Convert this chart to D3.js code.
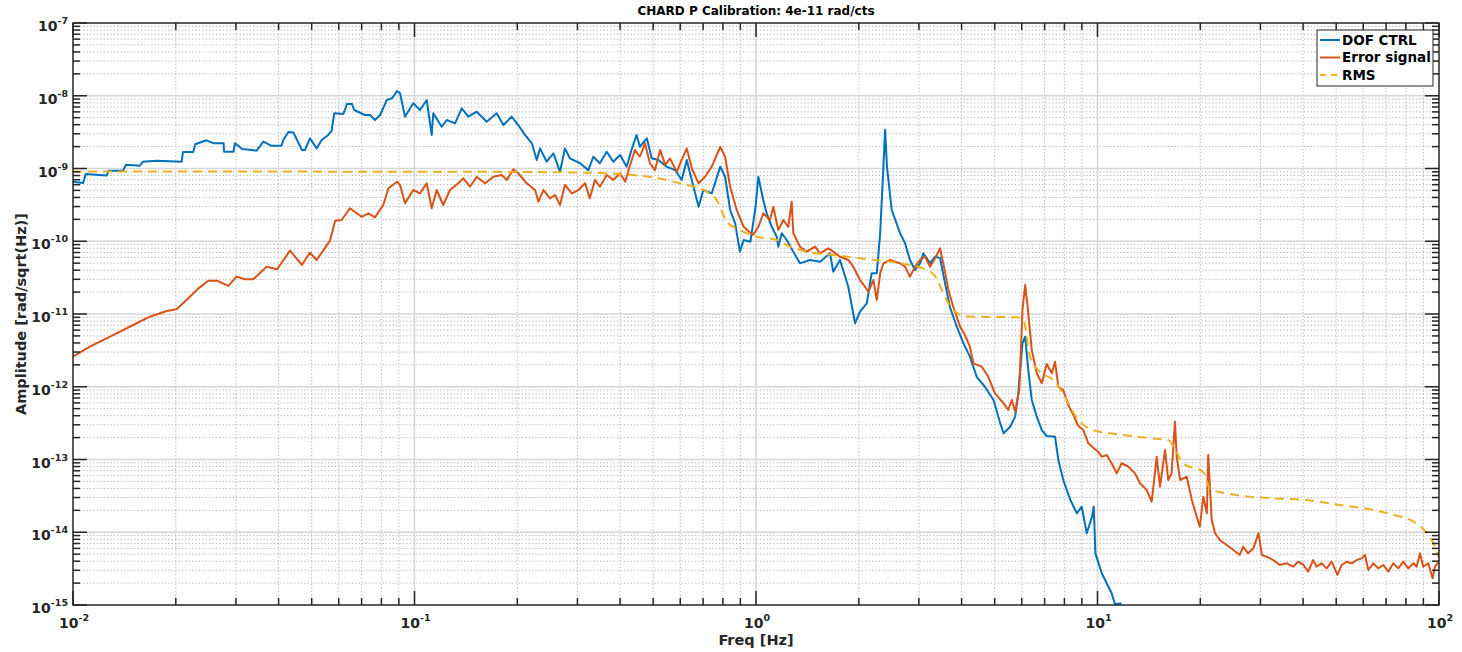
<!DOCTYPE html>
<html>
<head>
<meta charset="utf-8">
<title>CHARD P Calibration</title>
<script src="https://cdn.jsdelivr.net/npm/d3@7"></script>
<style>
  body { margin: 0; background: #fff; }
  svg { display: block; }
  text { font-family: "DejaVu Sans", sans-serif; font-weight: bold; fill: #262626; }
</style>
</head>
<body>
<svg id="chart" width="1462" height="652"></svg>
<script>
// ---- Spectra (frequency in Hz, amplitude in rad/sqrt(Hz)) ----
const dofFreq = [0.0100,0.0107,0.0109,0.01255,0.0127,0.0140,0.0143,0.0157,0.0160,0.0176,
  0.0208,0.0210,0.0225,0.0228,0.0246,0.0258,0.0276,0.0277,0.0295,0.0298,
  0.0313,0.0345,0.0361,0.0380,0.0408,0.0413,0.0427,0.0442,0.0468,0.0478,
  0.0494,0.0517,0.0535,0.0559,0.0572,0.0582,0.0619,0.0634,0.0656,0.0666,
  0.0716,0.0741,0.0766,0.0793,0.0830,0.0859,0.0889,0.0907,0.0938,0.0992,
  0.1038,0.1086,0.1123,0.1135,0.1201,0.1243,0.1314,0.1375,0.1437,0.1521,
  0.1627,0.1740,0.1820,0.1925,0.2013,0.2107,0.2206,0.2280,0.2332,0.2438,
  0.2551,0.2668,0.2758,0.2852,0.3054,0.3228,0.334,0.349,0.3655,0.382,
  0.400,0.418,0.432,0.447,0.457,0.479,0.495,0.518,0.547,0.580,
  0.606,0.627,0.656,0.679,0.701,0.742,0.786,0.812,0.840,0.869,
  0.897,0.920,0.963,0.997,1.016,1.050,1.075,1.112,1.150,1.162,
  1.189,1.230,1.286,1.345,1.439,1.540,1.647,1.684,1.762,1.863,
  1.950,2.017,2.110,2.181,2.258,2.310,2.361,2.388,2.418,2.497,
  2.642,2.732,2.824,2.922,3.022,3.091,3.233,3.344,3.460,3.580,
  3.704,3.876,4.050,4.23,4.43,4.68,4.96,5.19,5.31,5.55,
  5.74,5.86,6.03,6.14,6.27,6.42,6.64,6.87,7.10,7.51,
  7.68,7.94,8.33,8.70,8.99,9.30,9.64,9.75,9.86,10.29,
  10.64,11.0,11.25,11.77];
const dofAmp = [6.6e-10,6.3e-10,8.4e-10,8.0e-10,9.3e-10,9.3e-10,1.13e-9,1.09e-9,1.24e-9,1.28e-9,
  1.24e-9,1.69e-9,1.69e-9,2.15e-9,2.44e-9,2.22e-9,2.22e-9,1.70e-9,1.70e-9,2.22e-9,
  1.85e-9,1.76e-9,2.34e-9,2.06e-9,2.06e-9,2.46e-9,3.18e-9,3.13e-9,1.80e-9,1.80e-9,
  2.60e-9,1.89e-9,2.46e-9,2.89e-9,3.31e-9,5.74e-9,5.61e-9,7.70e-9,7.70e-9,6.37e-9,
  5.44e-9,5.44e-9,4.64e-9,5.44e-9,8.74e-9,9.25e-9,1.16e-8,1.08e-8,5.16e-9,7.87e-9,
  6.37e-9,8.74e-9,2.89e-9,5.74e-9,3.75e-9,4.64e-9,4.18e-9,6.72e-9,5.16e-9,6.04e-9,
  4.40e-9,5.74e-9,3.96e-9,5.16e-9,3.96e-9,2.89e-9,2.22e-9,1.31e-9,1.89e-9,1.24e-9,
  1.62e-9,9.0e-10,1.89e-9,1.38e-9,1.18e-9,9.5e-10,1.45e-9,1.18e-9,1.70e-9,1.24e-9,
  1.53e-9,1.06e-9,1.80e-9,2.89e-9,1.99e-9,2.60e-9,1.38e-9,1.31e-9,1.06e-9,9.5e-10,
  6.95e-10,1.31e-9,5.62e-10,2.98e-10,5.06e-10,4.56e-10,1.06e-9,7.7e-10,2.69e-10,1.76e-10,
  7.19e-11,1.04e-10,9.87e-11,2.98e-10,7.7e-10,3.69e-10,2.42e-10,1.58e-10,1.155e-10,8.42e-11,
  1.29e-10,1.04e-10,7.19e-11,4.97e-11,5.53e-11,5.24e-11,6.82e-11,3.81e-11,5.53e-11,2.37e-11,
  7.45e-12,1.075e-11,1.40e-11,3.63e-11,3.63e-11,1.29e-10,1.06e-9,3.4e-9,1.06e-9,2.69e-10,
  1.29e-10,9.38e-11,5.53e-11,4.03e-11,4.97e-11,6.82e-11,4.97e-11,6.13e-11,5.89e-11,2.59e-11,
  1.21e-11,6.63e-12,3.96e-12,2.59e-12,1.37e-12,1.0e-12,6.58e-13,3.15e-13,2.29e-13,2.82e-13,
  3.88e-13,8.12e-13,3.96e-12,4.88e-12,1.70e-12,6.58e-13,3.88e-13,2.54e-13,2.10e-13,2.06e-13,
  9.84e-14,5.23e-14,2.77e-14,1.82e-14,2.25e-14,9.70e-15,1.64e-14,2.25e-14,5.13e-15,2.73e-15,
  1.99e-15,1.45e-15,1.03e-15,1.05e-15];

const errFreq = [0.0100,0.0112,0.0131,0.0150,0.0168,0.0188,0.0201,0.0215,0.0233,0.0249,
  0.0264,0.0285,0.0301,0.0319,0.0337,0.0369,0.0396,0.0432,0.0468,0.0494,
  0.0517,0.0565,0.0586,0.0612,0.0647,0.0700,0.0733,0.0766,0.0810,0.0839,
  0.0889,0.0907,0.0938,0.0992,0.1038,0.1086,0.1123,0.1161,0.1214,0.1270,
  0.1344,0.1390,0.1454,0.1521,0.1609,0.1702,0.1800,0.1863,0.1947,0.2013,
  0.2131,0.2255,0.2306,0.2385,0.2494,0.2580,0.2668,0.2758,0.2888,0.3020,
  0.3157,0.326,0.3377,0.349,0.3655,0.382,0.400,0.414,0.428,0.442,
  0.457,0.473,0.489,0.506,0.524,0.542,0.560,0.586,0.606,0.627,
  0.649,0.679,0.709,0.742,0.786,0.812,0.840,0.878,0.920,0.980,
  1.016,1.050,1.099,1.124,1.162,1.202,1.243,1.272,1.286,1.345,
  1.408,1.489,1.540,1.628,1.684,1.762,1.863,1.927,2.017,2.086,
  2.133,2.207,2.258,2.310,2.361,2.470,2.642,2.732,2.824,2.922,
  3.022,3.126,3.233,3.344,3.460,3.536,3.66,3.78,3.96,4.09,
  4.23,4.33,4.58,4.79,5.01,5.31,5.48,5.61,5.74,5.90,
  6.03,6.14,6.23,6.42,6.64,6.87,7.10,7.35,7.51,7.68,
  7.94,8.21,8.50,8.79,9.09,9.39,9.75,10.05,10.29,10.64,
  11.0,11.38,11.77,12.31,12.88,13.32,13.93,14.41,14.91,15.24,
  15.77,16.11,16.48,16.86,17.06,17.45,18.25,18.89,19.52,19.94,
  20.4,20.9,21.1,21.6,22.1,22.8,23.9,25.0,26.1,26.7,
  27.6,28.6,29.6,30.3,31.3,32.7,34.2,35.8,37.4,38.7,
  40.1,41.4,42.8,43.8,45.3,46.9,48.5,50.4,51.9,53.7,
  55.5,57.4,59.4,60.7,62.1,64.2,66.4,68.7,71.1,73.5,
  76.0,78.6,81.3,84.1,86.0,88.0,89.9,93.0,95.8,97.3,
  100];
const errAmp = [2.59e-12,3.55e-12,5.14e-12,7.06e-12,9.18e-12,1.10e-11,1.16e-11,1.56e-11,2.25e-11,2.87e-11,
  2.87e-11,2.43e-11,3.26e-11,3.0e-11,3.0e-11,4.47e-11,4.12e-11,7.42e-11,4.72e-11,6.97e-11,
  5.53e-11,1.01e-10,1.92e-10,1.96e-10,2.84e-10,2.17e-10,2.42e-10,2.13e-10,3.15e-10,5.35e-10,
  6.59e-10,5.94e-10,3.32e-10,5.06e-10,4.56e-10,6.26e-10,2.84e-10,5.06e-10,3.15e-10,5.06e-10,
  6.26e-10,7.33e-10,5.62e-10,7.7e-10,6.26e-10,7.7e-10,8.13e-10,6.95e-10,9.75e-10,8.6e-10,
  6.26e-10,5.06e-10,3.50e-10,5.06e-10,3.89e-10,4.32e-10,3.15e-10,5.94e-10,4.56e-10,5.06e-10,
  6.26e-10,3.89e-10,6.95e-10,5.62e-10,8.13e-10,6.95e-10,8.6e-10,6.59e-10,1.12e-9,1.80e-9,
  1.45e-9,2.22e-9,1.18e-9,9.5e-10,1.80e-9,1.12e-9,1.38e-9,9.0e-10,1.31e-9,1.89e-9,
  1.0e-9,6.26e-10,7.7e-10,1.06e-9,1.99e-9,1.45e-9,5.62e-10,2.69e-10,1.58e-10,1.22e-10,
  1.58e-10,2.42e-10,1.96e-10,2.98e-10,1.43e-10,1.96e-10,1.58e-10,3.50e-10,1.29e-10,8.42e-11,
  7.19e-11,8.42e-11,6.82e-11,8.0e-11,7.19e-11,6.13e-11,5.53e-11,4.47e-11,2.93e-11,2.37e-11,
  2.02e-11,2.93e-11,1.56e-11,3.63e-11,4.97e-11,5.53e-11,4.97e-11,4.47e-11,3.26e-11,4.47e-11,
  5.53e-11,6.13e-11,4.47e-11,5.83e-11,8.0e-11,4.97e-11,2.14e-11,1.26e-11,6.69e-12,5.14e-12,
  3.55e-12,2.10e-12,1.89e-12,1.37e-12,8.12e-13,5.92e-13,4.79e-13,6.58e-13,4.54e-13,9.0e-13,
  1.135e-11,2.50e-11,1.40e-11,3.20e-12,1.53e-12,1.12e-12,2.05e-12,1.53e-12,2.21e-12,1.0e-12,
  9.0e-13,5.61e-13,4.09e-13,2.89e-13,2.54e-13,1.69e-13,1.43e-13,1.28e-13,1.09e-13,1.15e-13,
  8.88e-14,6.45e-14,8.88e-14,7.97e-14,6.45e-14,4.71e-14,3.81e-14,2.63e-14,1.09e-13,4.23e-14,
  1.35e-13,5.23e-14,6.45e-14,3.31e-13,1.09e-13,5.23e-14,5.80e-14,2.77e-14,1.64e-14,1.19e-14,
  3.08e-14,1.82e-14,1.15e-13,1.47e-14,9.70e-15,7.84e-15,6.68e-15,5.70e-15,4.87e-15,6.33e-15,
  5.13e-15,6.01e-15,9.7e-15,4.87e-15,4.61e-15,4.15e-15,3.55e-15,3.74e-15,3.36e-15,3.94e-15,
  3.55e-15,2.87e-15,4.15e-15,3.36e-15,3.74e-15,3.19e-15,3.94e-15,2.59e-15,3.55e-15,3.94e-15,
  3.74e-15,4.15e-15,4.38e-15,4.87e-15,3.03e-15,3.74e-15,3.19e-15,3.55e-15,2.87e-15,3.74e-15,
  3.19e-15,3.94e-15,3.19e-15,3.74e-15,3.36e-15,5.13e-15,3.36e-15,3.74e-15,2.33e-15,3.36e-15,
  3.94e-15];

// Cumulative RMS, integrated from high to low frequency
const rmsFreq = [0.01,0.15,0.3,0.437,0.599,0.717,0.767,0.821,0.897,1.005,
  1.150,1.258,1.408,1.684,2.017,2.642,3.16,3.38,3.54,3.78,
  4.14,5.80,6.07,6.34,6.80,7.42,7.94,8.70,9.51,10.88,
  11.9,14.24,16.1,16.74,17.8,20.4,21.35,23.9,32.7,40.9,
  51.3,64.3,73.6,84.2,92.1,97.3,100];
const rmsAmp = [9.1e-10,9.0e-10,8.8e-10,8.13e-10,6.26e-10,4.80e-10,3.69e-10,1.86e-10,1.43e-10,1.155e-10,
  1.04e-10,8.42e-11,7.19e-11,6.49e-11,5.83e-11,4.97e-11,4.03e-11,3.09e-11,1.88e-11,1.135e-11,
  9.24e-12,9.0e-12,8.28e-12,2.59e-12,1.59e-12,1.24e-12,7.95e-13,3.72e-13,2.62e-13,2.29e-13,
  2.17e-13,1.96e-13,1.85e-13,1.49e-13,8.88e-14,6.74e-14,3.93e-14,3.43e-14,2.93e-14,2.77e-14,
  2.37e-14,2.02e-14,1.73e-14,1.40e-14,9.70e-15,6.33e-15,4.42e-15];

// ---- Axes definitions ----
const xDecades = [-2, -1, 0, 1, 2];
const yDecades = [-15, -14, -13, -12, -11, -10, -9, -8, -7];
const minorMults = [2, 3, 4, 5, 6, 7, 8, 9];
const seriesNames = ["DOF CTRL", "Error signal", "RMS"];
const seriesColors = ["#0072BD", "#D95319", "#EDB120"];
const titleText = "CHARD P Calibration: 4e-11 rad/cts";
const xLabelText = "Freq [Hz]";
const yLabelText = "Amplitude [rad/sqrt(Hz)]";

const svg = d3.select("#chart");
const L = 73, R = 1439, T = 23, B = 605;

const x = d3.scaleLog().domain([1e-2, 1e2]).range([L, R]);
const y = d3.scaleLog().domain([1e-15, 1e-7]).range([B, T]);

const xMajor = xDecades.map(e => Math.pow(10, e));
const yMajor = yDecades.map(e => Math.pow(10, e));
const xMinor = xDecades.slice(0, -1).flatMap(e => minorMults.map(m => m * Math.pow(10, e)));
const yMinor = yDecades.slice(0, -1).flatMap(e => minorMults.map(m => m * Math.pow(10, e)));

// ---- Grid ----
const grid = svg.append("g");
grid.selectAll(".xminor").data(xMinor).join("line")
  .attr("x1", d => x(d)).attr("x2", d => x(d)).attr("y1", T).attr("y2", B)
  .attr("stroke", "#b4b4b4").attr("stroke-width", 1).attr("stroke-dasharray", "1.3,2.1");
grid.selectAll(".yminor").data(yMinor).join("line")
  .attr("y1", d => y(d)).attr("y2", d => y(d)).attr("x1", L).attr("x2", R)
  .attr("stroke", "#b4b4b4").attr("stroke-width", 1).attr("stroke-dasharray", "1.3,2.1");
grid.selectAll(".xmajor").data(xMajor.slice(1, -1)).join("line")
  .attr("x1", d => x(d)).attr("x2", d => x(d)).attr("y1", T).attr("y2", B)
  .attr("stroke", "#d6d6d6").attr("stroke-width", 1.5);
grid.selectAll(".ymajor").data(yMajor.slice(1, -1)).join("line")
  .attr("y1", d => y(d)).attr("y2", d => y(d)).attr("x1", L).attr("x2", R)
  .attr("stroke", "#d6d6d6").attr("stroke-width", 1.5);

// ---- Data lines ----
svg.append("clipPath").attr("id", "plotArea")
  .append("rect").attr("x", L).attr("y", T).attr("width", R - L).attr("height", B - T);
const plot = svg.append("g").attr("clip-path", "url(#plotArea)");

const zip = (f, a) => f.map((v, i) => [v, a[i]]);
const lineLin = d3.line().x(d => x(d[0])).y(d => y(d[1]));
const lineSmooth = d3.line().x(d => x(d[0])).y(d => y(d[1])).curve(d3.curveMonotoneX);

plot.append("path").datum(zip(dofFreq, dofAmp))
  .attr("d", lineLin).attr("fill", "none").attr("stroke", seriesColors[0])
  .attr("stroke-width", 2).attr("stroke-linejoin", "round");
plot.append("path").datum(zip(errFreq, errAmp))
  .attr("d", lineLin).attr("fill", "none").attr("stroke", seriesColors[1])
  .attr("stroke-width", 2).attr("stroke-linejoin", "round");
plot.append("path").datum(zip(rmsFreq, rmsAmp))
  .attr("d", lineSmooth).attr("fill", "none").attr("stroke", seriesColors[2])
  .attr("stroke-width", 2).attr("stroke-dasharray", "9,6");

// ---- Axis box and ticks ----
const axes = svg.append("g").attr("stroke", "#262626").attr("stroke-width", 1.5);
axes.append("rect").attr("x", L).attr("y", T).attr("width", R - L).attr("height", B - T)
  .attr("fill", "none");
const majLen = 14, minLen = 7;
const xt = xMajor.map(v => [v, majLen]).concat(xMinor.map(v => [v, minLen]));
const yt = yMajor.map(v => [v, majLen]).concat(yMinor.map(v => [v, minLen]));
axes.selectAll(".xtb").data(xt).join("line")
  .attr("x1", d => x(d[0])).attr("x2", d => x(d[0])).attr("y1", B).attr("y2", d => B - d[1]);
axes.selectAll(".xtt").data(xt).join("line")
  .attr("x1", d => x(d[0])).attr("x2", d => x(d[0])).attr("y1", T).attr("y2", d => T + d[1]);
axes.selectAll(".ytl").data(yt).join("line")
  .attr("y1", d => y(d[0])).attr("y2", d => y(d[0])).attr("x1", L).attr("x2", d => L + d[1]);
axes.selectAll(".ytr").data(yt).join("line")
  .attr("y1", d => y(d[0])).attr("y2", d => y(d[0])).attr("x1", R).attr("x2", d => R - d[1]);

// ---- Tick labels (10 with superscript exponent) ----
function powerLabel(sel, exp) {
  sel.append("tspan").attr("font-size", 14).text("10");
  sel.append("tspan").attr("font-size", 9.5).attr("dy", -7).text(String(exp));
}
svg.selectAll(".ylab").data(yDecades).join("text")
  .attr("x", 68).attr("y", d => y(Math.pow(10, d)) + 8)
  .attr("text-anchor", "end")
  .each(function (d) { powerLabel(d3.select(this), d); });
svg.selectAll(".xlab").data(xDecades).join("text")
  .attr("x", d => x(Math.pow(10, d)) + 1).attr("y", 628)
  .attr("text-anchor", "middle")
  .each(function (d) { powerLabel(d3.select(this), d); });

// ---- Titles ----
svg.append("text").attr("x", (L + R) / 2).attr("y", 15).attr("text-anchor", "middle")
  .attr("font-size", 12).style("fill", "#000").text(titleText);
svg.append("text").attr("x", (L + R) / 2).attr("y", 645).attr("text-anchor", "middle")
  .attr("font-size", 14.5).text(xLabelText);
svg.append("text").attr("transform", `translate(26,${(T + B) / 2}) rotate(-90)`)
  .attr("text-anchor", "middle").attr("font-size", 14.5).text(yLabelText);

// ---- Legend ----
const lg = svg.append("g");
lg.append("rect").attr("x", 1317).attr("y", 30).attr("width", 116).attr("height", 56)
  .attr("fill", "#fff").attr("stroke", "#262626").attr("stroke-width", 1);
seriesNames.forEach((name, i) => {
  const cy = 40 + i * 17.5;
  lg.append("line").attr("x1", 1320).attr("x2", 1340).attr("y1", cy).attr("y2", cy)
    .attr("stroke", seriesColors[i]).attr("stroke-width", 2)
    .attr("stroke-dasharray", i === 2 ? "6,5" : null);
  lg.append("text").attr("x", 1342).attr("y", cy).attr("dy", "0.36em")
    .attr("font-size", 13.5).style("fill", "#000").text(name);
});
</script>
</body>
</html>
